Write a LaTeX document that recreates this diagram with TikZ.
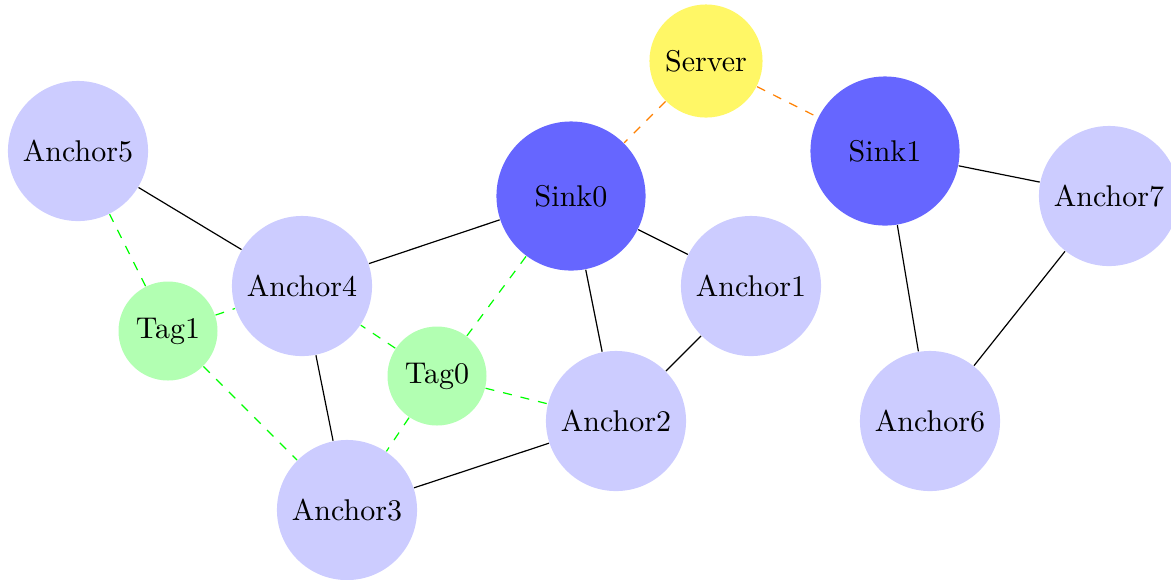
\documentclass[tikz,border=0pt]{standalone}
\begin{document}
\begin{tikzpicture}[x=0.33333pt,y=-0.33333pt,
  anchorn/.style={circle,fill=blue!20,minimum size=46.7pt,inner sep=0pt},
  sinkn/.style={circle,fill=blue!60,minimum size=49.7pt,inner sep=0pt},
  tagn/.style={circle,fill=green!30,minimum size=33pt,inner sep=0pt},
  servern/.style={circle,fill=yellow!60,minimum size=37.7pt,inner sep=0pt},
  link/.style={draw=black,line width=0.4pt},
  taglink/.style={draw=green,dashed,line width=0.4pt},
  srvlink/.style={draw=orange,dashed,line width=0.4pt}]
\useasboundingbox (0,0) rectangle (1171,579);
\node[anchorn] (a5) at (78,151) {Anchor5};
\node[anchorn] (a4) at (302,286) {Anchor4};
\node[tagn] (t1) at (168,331) {Tag1};
\node[anchorn] (a3) at (347,510) {Anchor3};
\node[tagn] (t0) at (437,376) {Tag0};
\node[anchorn] (a2) at (616,421) {Anchor2};
\node[anchorn] (a1) at (751,286) {Anchor1};
\node[sinkn] (s0) at (571,196) {Sink0};
\node[servern] (srv) at (706,61) {Server};
\node[sinkn] (s1) at (885,151) {Sink1};
\node[anchorn] (a7) at (1109,196) {Anchor7};
\node[anchorn] (a6) at (930,421) {Anchor6};
\draw[link] (a5) -- (a4);
\draw[link] (a4) -- (s0);
\draw[link] (a4) -- (a3);
\draw[link] (s0) -- (a1);
\draw[link] (s0) -- (a2);
\draw[link] (a1) -- (a2);
\draw[link] (a2) -- (a3);
\draw[link] (s1) -- (a7);
\draw[link] (s1) -- (a6);
\draw[link] (a7) -- (a6);
\draw[srvlink] (srv) -- (s0);
\draw[srvlink] (srv) -- (s1);
\draw[taglink] (t1) -- (a5);
\draw[taglink] (t1) -- (a4);
\draw[taglink] (t1) -- (a3);
\draw[taglink] (t0) -- (a4);
\draw[taglink] (t0) -- (s0);
\draw[taglink] (t0) -- (a2);
\draw[taglink] (t0) -- (a3);
\end{tikzpicture}
\end{document}
